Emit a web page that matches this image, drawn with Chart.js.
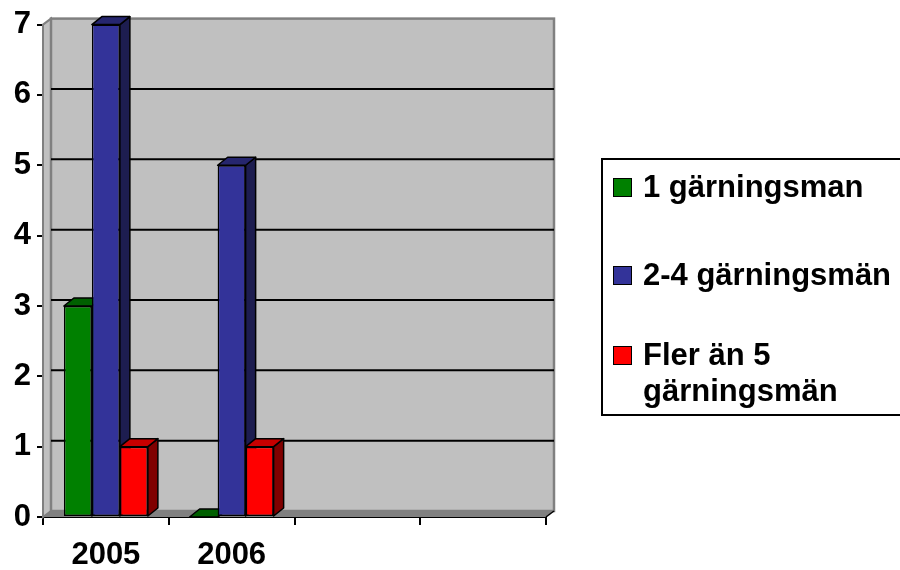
<!DOCTYPE html>
<html>
<head>
<meta charset="utf-8">
<script src="https://cdn.jsdelivr.net/npm/chart.js@4.4.0/dist/chart.umd.min.js"></script>
<style>
  body { margin: 0; background: #fff; }
  #wrap { position: relative; width: 900px; height: 570px; overflow: hidden; }
  #legend {
    position: absolute; left: 601px; top: 158px; width: 310px; height: 258px;
    border: 2px solid #000; box-sizing: border-box;
    font: bold 31px "Liberation Sans", Arial, sans-serif; color: #000;
  }
  .item { position: absolute; left: 10px; line-height: 36px; }
  .sw { position: absolute; left: 0; top: 9px; width: 19px; height: 19px; border: 1.5px solid #000; box-sizing: border-box; }
  .lbl { margin-left: 30px; white-space: pre; }
</style>
</head>
<body>
<div id="wrap">
  <canvas id="c" width="900" height="570"></canvas>
  <div id="legend"></div>
</div>
<script>
const years = ["2005", "2006", "", ""];
const seriesNames = ["1 gärningsman", "2-4 gärningsmän", "Fler än 5\ngärningsmän"];
const oneOffender = [3, 0, null, null];
const twoToFour = [7, 5, null, null];
const fiveOrMore = [1, 1, null, null];
const yTicks = [0, 1, 2, 3, 4, 5, 6, 7];

const fronts = ["#008000", "#333399", "#ff0000"];
const tops = ["#006000", "#26266e", "#c80000"];
const sides = ["#004000", "#1d1d50", "#800000"];

const WALL_DX = 8, WALL_DY = -6;
const BAR_DX = 10, BAR_DY = -8;

// back wall, floor and gridlines of the fake 3d box
const wallPlugin = {
  id: "wall",
  beforeDatasetsDraw(chart) {
    const ctx = chart.ctx, a = chart.chartArea, y = chart.scales.y;
    ctx.save();
    // left side wall
    ctx.fillStyle = "#c0c0c0";
    ctx.beginPath();
    ctx.moveTo(a.left, a.bottom);
    ctx.lineTo(a.left, a.top);
    ctx.lineTo(a.left + WALL_DX, a.top + WALL_DY);
    ctx.lineTo(a.left + WALL_DX, a.bottom + WALL_DY);
    ctx.closePath();
    ctx.fill();
    ctx.strokeStyle = "#808080"; ctx.lineWidth = 2; ctx.stroke();
    // back wall
    ctx.fillStyle = "#c0c0c0";
    ctx.fillRect(a.left + WALL_DX, a.top + WALL_DY, a.right - a.left, a.bottom - a.top);
    ctx.strokeStyle = "#808080"; ctx.lineWidth = 2.5;
    ctx.strokeRect(a.left + WALL_DX, a.top + WALL_DY, a.right - a.left, a.bottom - a.top);
    // gridlines on the wall
    ctx.strokeStyle = "#000"; ctx.lineWidth = 2;
    yTicks.forEach(v => {
      if (v === yTicks[0] || v === yTicks[yTicks.length - 1]) return;
      const py = y.getPixelForValue(v) + WALL_DY;
      ctx.beginPath();
      ctx.moveTo(a.left + WALL_DX, py);
      ctx.lineTo(a.right + WALL_DX, py);
      ctx.stroke();
    });
    // floor
    ctx.fillStyle = "#808080";
    ctx.beginPath();
    ctx.moveTo(a.left, a.bottom);
    ctx.lineTo(a.right, a.bottom);
    ctx.lineTo(a.right + WALL_DX, a.bottom + WALL_DY);
    ctx.lineTo(a.left + WALL_DX, a.bottom + WALL_DY);
    ctx.closePath();
    ctx.fill();
    ctx.strokeStyle = "#000"; ctx.lineWidth = 1.5;
    ctx.beginPath();
    ctx.moveTo(a.right, a.bottom);
    ctx.lineTo(a.right + WALL_DX, a.bottom + WALL_DY);
    ctx.stroke();

    // top and side faces of the bars
    chart.data.datasets.forEach((ds, i) => {
      chart.getDatasetMeta(i).data.forEach((bar, j) => {
        if (ds.data[j] === null) return;
        const p = bar.getProps(["x", "y", "base", "width"], true);
        const l = p.x - p.width / 2, r = p.x + p.width / 2, t = p.y, b = p.base;
        ctx.lineWidth = 1.5; ctx.strokeStyle = "#000"; ctx.lineJoin = "round";
        ctx.fillStyle = sides[i];
        ctx.beginPath();
        ctx.moveTo(r, b); ctx.lineTo(r, t);
        ctx.lineTo(r + BAR_DX, t + BAR_DY); ctx.lineTo(r + BAR_DX, b + BAR_DY);
        ctx.closePath(); ctx.fill(); ctx.stroke();
        ctx.fillStyle = tops[i];
        ctx.beginPath();
        ctx.moveTo(l, t); ctx.lineTo(r, t);
        ctx.lineTo(r + BAR_DX, t + BAR_DY); ctx.lineTo(l + BAR_DX, t + BAR_DY);
        ctx.closePath(); ctx.fill(); ctx.stroke();
      });
    });
    ctx.restore();
  }
};

const font = { family: "'Liberation Sans', Arial, sans-serif", size: 31, weight: "bold" };

new Chart(document.getElementById("c"), {
  type: "bar",
  data: {
    labels: years,
    datasets: [
      { label: seriesNames[0], data: oneOffender },
      { label: seriesNames[1], data: twoToFour },
      { label: seriesNames[2], data: fiveOrMore }
    ].map((d, i) => Object.assign(d, {
      backgroundColor: fronts[i], borderColor: "#000", borderWidth: 1.5, borderSkipped: false
    }))
  },
  options: {
    responsive: false,
    animation: false,
    layout: { padding: { top: 19, right: 354, left: 0, bottom: 0 } },
    categoryPercentage: 0.668,
    barPercentage: 1,
    plugins: { legend: { display: false }, tooltip: { enabled: false } },
    scales: {
      x: {
        afterFit: s => { s.height = 53; },
        grid: { drawOnChartArea: false, drawTicks: true, tickLength: 8, color: "#000", lineWidth: 2, offset: true },
        border: { color: "#000", width: 2 },
        ticks: { color: "#000", font: font, padding: 12, maxRotation: 0 }
      },
      y: {
        min: 0, max: 7,
        afterFit: s => { s.width = 43; },
        afterBuildTicks: s => { s.ticks = yTicks.map(v => ({ value: v })); },
        grid: { drawOnChartArea: false, drawTicks: true, tickLength: 6, color: "#000", lineWidth: 2 },
        border: { color: "#000", width: 2 },
        ticks: { color: "#000", font: font, padding: 6 }
      }
    }
  },
  plugins: [wallPlugin]
});

// legend box, built from the series names and colours
const lg = document.getElementById("legend");
const rows = [9, 97, 177];
seriesNames.forEach((name, i) => {
  const it = document.createElement("div");
  it.className = "item";
  it.style.top = rows[i] + "px";
  it.innerHTML = '<span class="sw" style="background:' + fronts[i] + '"></span><div class="lbl"></div>';
  it.querySelector(".lbl").textContent = name;
  lg.appendChild(it);
});
</script>
</body>
</html>
